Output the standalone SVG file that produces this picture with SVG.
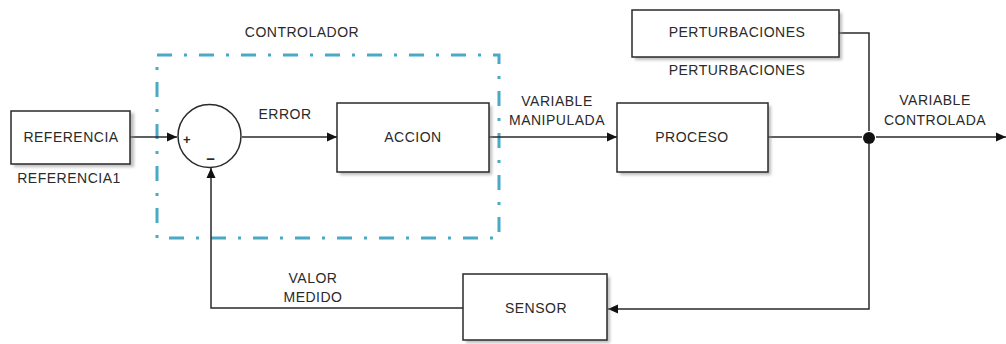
<svg xmlns="http://www.w3.org/2000/svg" width="1006" height="344" viewBox="0 0 1006 344">
<style>
text{font-family:"Liberation Sans",Arial,sans-serif;font-size:14px;letter-spacing:0.5px;fill:#2a2a2a;text-anchor:middle;dominant-baseline:central}
.box{fill:#fff;stroke:#2a2a2a;stroke-width:1.5}
.sh{fill:#888;opacity:0.55;filter:url(#blur)}
.ln{fill:none;stroke:#2a2a2a;stroke-width:1.5}
.dash{fill:none;stroke:#4aa9c5;stroke-width:3;stroke-dasharray:15 12 3 12}
</style>
<defs>
<filter id="blur" x="-10%" y="-10%" width="130%" height="130%"><feGaussianBlur stdDeviation="1.5"/></filter>
<marker id="arr" viewBox="0 0 10 10" refX="10" refY="5" markerWidth="10" markerHeight="10" markerUnits="userSpaceOnUse" orient="auto">
<path d="M0,0.5 L10,5 L0,9.5 Z" fill="#111"/>
</marker>
</defs>
<rect width="1006" height="344" fill="#fff"/>
<g id="controlador">
<rect class="dash" x="157" y="55" width="342" height="183"/>
<text x="302" y="32">CONTROLADOR</text>
</g>
<g id="connectors">
<path class="ln" d="M130,137 H177" marker-end="url(#arr)"/>
<path class="ln" d="M242,137 H337" marker-end="url(#arr)"/>
<path class="ln" d="M489,137 H617" marker-end="url(#arr)"/>
<path class="ln" d="M768,137 H862"/>
<path class="ln" d="M876,137 H1006" marker-end="url(#arr)"/>
<path class="ln" d="M839,33 H869 V131"/>
<path class="ln" d="M869,144 V309 H608" marker-end="url(#arr)"/>
<path class="ln" d="M463,308 H211 V168" marker-end="url(#arr)"/>
<circle cx="869" cy="138" r="6" fill="#111"/>
<text x="285" y="114">ERROR</text>
<text x="557" y="101">VARIABLE</text>
<text x="557" y="120">MANIPULADA</text>
<text x="935" y="100">VARIABLE</text>
<text x="935" y="120">CONTROLADA</text>
<text x="313" y="278">VALOR</text>
<text x="313" y="297">MEDIDO</text>
</g>
<g id="referencia">
<rect class="sh" x="14" y="113" width="120" height="54"/>
<rect class="box" x="11" y="111" width="119" height="53"/>
<text x="71" y="137">REFERENCIA</text>
<text x="69" y="178">REFERENCIA1</text>
</g>
<g id="suma">
<circle class="box" cx="209.5" cy="136" r="31.5"/>
<text x="187" y="139" style="font-size:13px;font-weight:bold">+</text>
<text x="211" y="158" style="font-size:15px;font-weight:bold">−</text>
</g>
<g id="accion">
<rect class="sh" x="340" y="106" width="152" height="69"/>
<rect class="box" x="337" y="103" width="152" height="69"/>
<text x="413" y="137">ACCION</text>
</g>
<g id="proceso">
<rect class="sh" x="620" y="106" width="151" height="69"/>
<rect class="box" x="617" y="103" width="151" height="69"/>
<text x="692" y="137">PROCESO</text>
</g>
<g id="perturbaciones">
<rect class="sh" x="635" y="13" width="207" height="47"/>
<rect class="box" x="632" y="10" width="207" height="47"/>
<text x="737" y="32">PERTURBACIONES</text>
<text x="737" y="70">PERTURBACIONES</text>
</g>
<g id="sensor">
<rect class="sh" x="466" y="277" width="144" height="66"/>
<rect class="box" x="463" y="274" width="144" height="66"/>
<text x="536" y="308">SENSOR</text>
</g>
</svg>
